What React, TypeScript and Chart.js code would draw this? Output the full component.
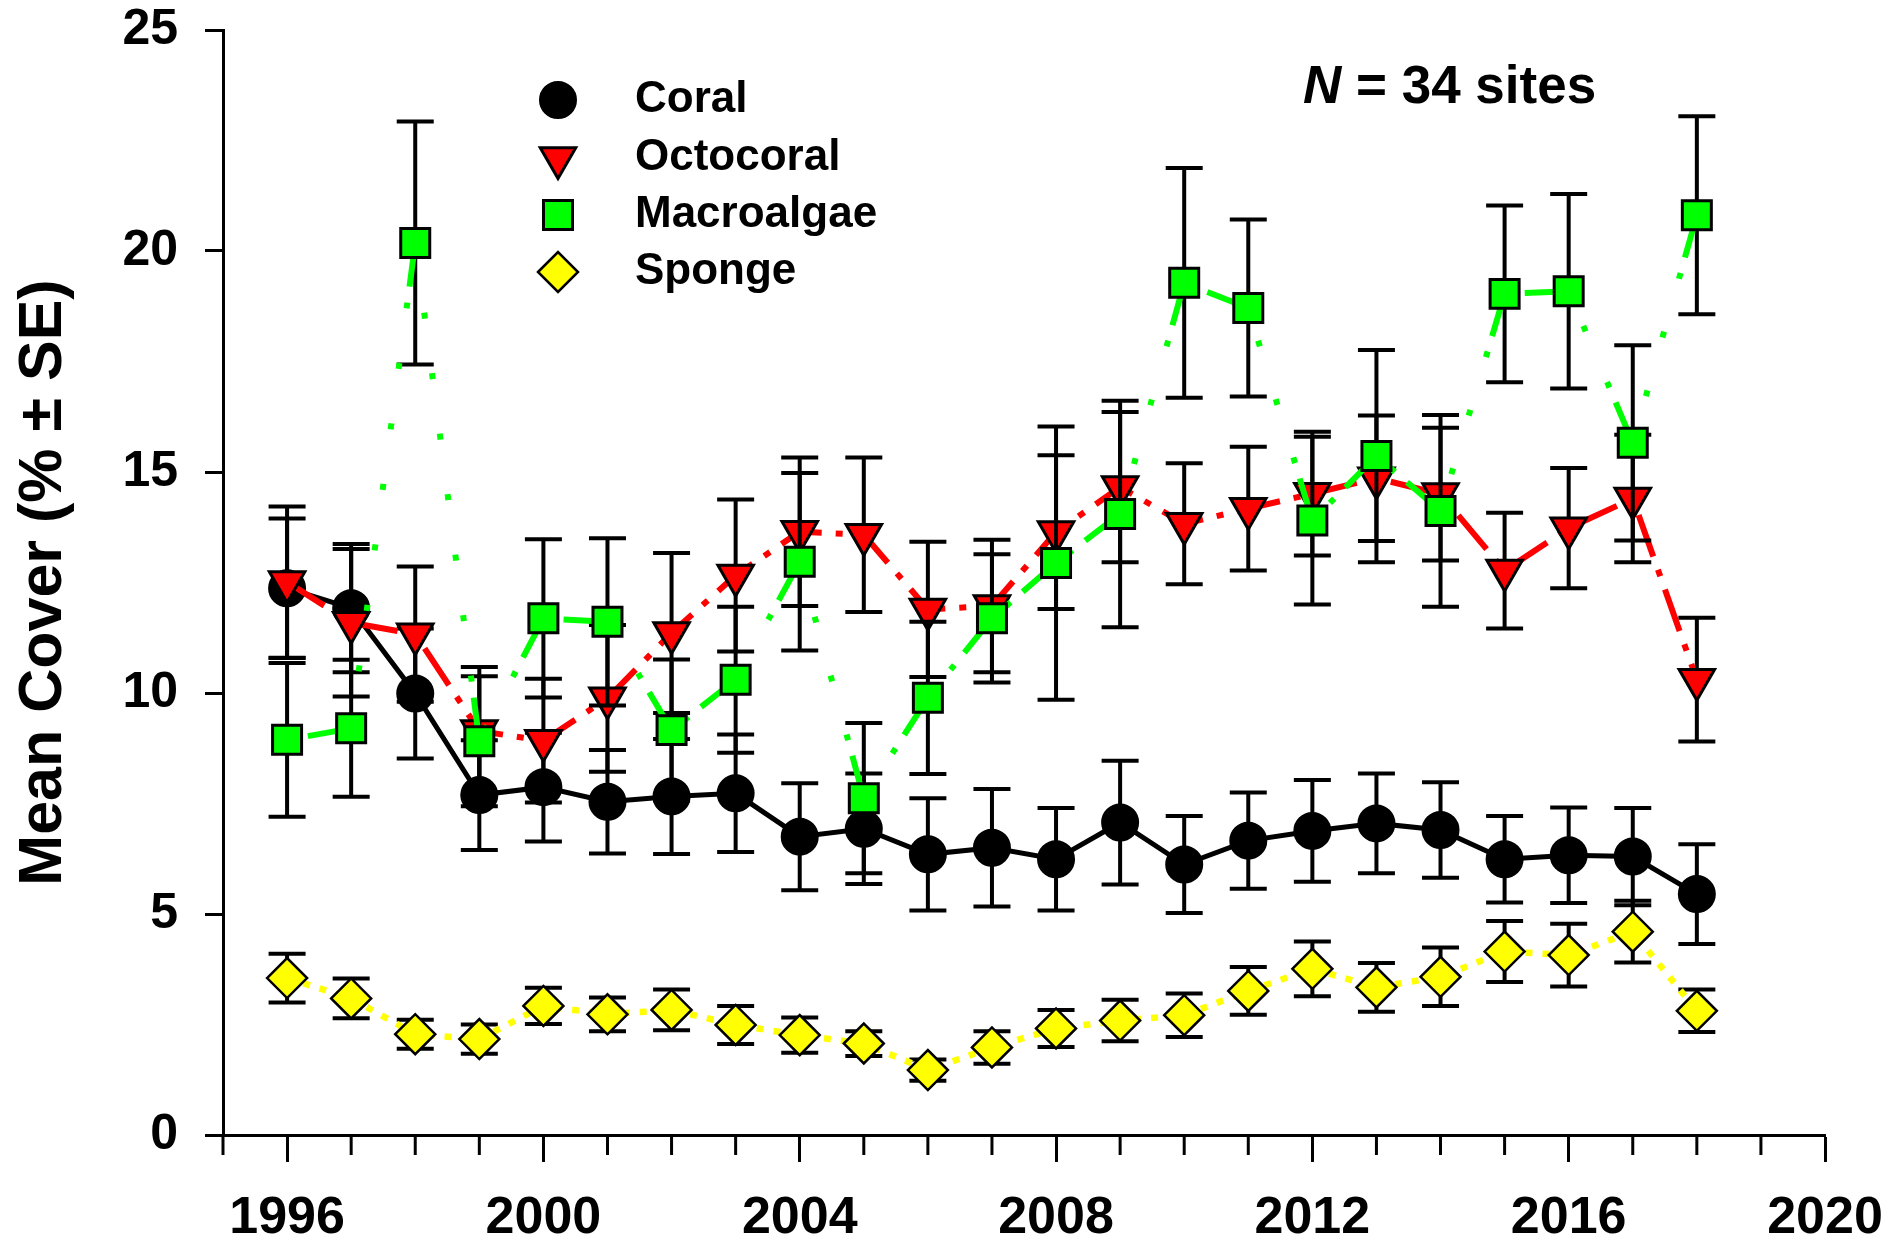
import React, { useEffect, useRef } from "react";
import { Chart, registerables } from "chart.js";
import { drawPoint } from "chart.js/helpers";

Chart.register(...registerables);

// ---------------- data ----------------
const years = [1996, 1997, 1998, 1999, 2000, 2001, 2002, 2003, 2004, 2005, 2006, 2007, 2008, 2009, 2010, 2011, 2012, 2013, 2014, 2015, 2016, 2017, 2018];

const coralMean = [12.37, 11.92, 9.99, 7.69, 7.87, 7.54, 7.66, 7.73, 6.75, 6.93, 6.35, 6.5, 6.24, 7.07, 6.12, 6.66, 6.88, 7.05, 6.9, 6.24, 6.33, 6.3, 5.45];
const coralSE = [1.58, 1.45, 1.47, 1.24, 1.23, 1.17, 1.3, 1.33, 1.21, 1.25, 1.27, 1.33, 1.16, 1.4, 1.1, 1.09, 1.15, 1.13, 1.08, 0.98, 1.08, 1.1, 1.13];

const octocoralMean = [12.51, 11.59, 11.33, 9.14, 8.92, 9.88, 11.36, 12.66, 13.65, 13.58, 11.89, 11.97, 13.64, 14.66, 13.83, 14.17, 14.51, 14.86, 14.5, 12.77, 13.73, 14.4, 10.3];
const octocoralSE = [1.71, 1.67, 1.53, 1.45, 1.4, 1.66, 1.81, 1.72, 1.68, 1.75, 1.53, 1.5, 1.74, 1.7, 1.37, 1.4, 1.4, 1.42, 1.5, 1.31, 1.36, 1.44, 1.4];

const macroalgaeMean = [8.94, 9.2, 20.18, 8.91, 11.69, 11.61, 9.16, 10.3, 12.97, 7.62, 9.89, 11.69, 12.94, 14.05, 19.28, 18.71, 13.9, 15.36, 14.12, 19.03, 19.09, 15.66, 20.81];
const macroalgaeSE = [1.74, 1.55, 2.75, 1.47, 1.79, 1.89, 1.6, 1.65, 2.01, 1.7, 1.72, 1.45, 3.09, 2.56, 2.6, 2.0, 1.9, 2.4, 2.17, 2.0, 2.2, 2.21, 2.24];

const spongeMean = [3.55, 3.09, 2.28, 2.17, 2.92, 2.73, 2.83, 2.49, 2.26, 2.07, 1.47, 1.98, 2.41, 2.59, 2.71, 3.26, 3.76, 3.34, 3.58, 4.15, 4.07, 4.6, 2.81];
const spongeSE = [0.55, 0.45, 0.33, 0.33, 0.41, 0.38, 0.46, 0.43, 0.4, 0.28, 0.24, 0.37, 0.42, 0.47, 0.49, 0.54, 0.62, 0.55, 0.66, 0.69, 0.71, 0.7, 0.48];

const seriesLabels = ["Coral", "Octocoral", "Macroalgae", "Sponge"];
const yTickValues = [0, 5, 10, 15, 20, 25];
const xMin = 1995;
const xMax = 2020;
const majorStart = 1996;
const majorEvery = 4;
const annotationN = "N";
const annotationRest = " = 34 sites";
const yTitle = "Mean Cover (% ± SE)";

// ---------------- styling ----------------
const FONT = "'Liberation Sans', Arial, Helvetica, sans-serif";
const GREEN_DASH = [6, 55, 6, 55, 6, 55, 6, 55, 6, 55, 6, 55, 6, 55, 6, 16, 44, 55];
const GREEN_PERIOD = GREEN_DASH.reduce((a, b) => a + b, 0);
const GREEN_END = GREEN_PERIOD - 55;

const pts = (vals: number[]) => years.map((x, i) => ({ x, y: vals[i] }));

const zeroPadding = (s: any) => {
  s.paddingTop = 0;
  s.paddingBottom = 0;
  s.paddingLeft = 0;
  s.paddingRight = 0;
};

const errorBarPlugin = {
  id: "errorBars",
  beforeDatasetDraw(chart: any, args: any) {
    const ds = chart.data.datasets[args.index];
    const se: number[] = ds.se;
    if (!se) return;
    const yScale = chart.scales.y;
    const ctx = chart.ctx;
    ctx.save();
    ctx.strokeStyle = "#000";
    ctx.lineWidth = 4;
    ctx.lineCap = "butt";
    ctx.setLineDash([]);
    args.meta.data.forEach((pt: any, i: number) => {
      const v = ds.data[i].y;
      const top = yScale.getPixelForValue(v + se[i]);
      const bot = yScale.getPixelForValue(v - se[i]);
      const x = pt.x;
      ctx.beginPath();
      ctx.moveTo(x, top);
      ctx.lineTo(x, bot);
      ctx.moveTo(x - 18.5, top);
      ctx.lineTo(x + 18.5, top);
      ctx.moveTo(x - 18.5, bot);
      ctx.lineTo(x + 18.5, bot);
      ctx.stroke();
    });
    ctx.restore();
  },
};

const minorTickPlugin = {
  id: "minorTicks",
  afterDraw(chart: any) {
    const xs = chart.scales.x;
    const ctx = chart.ctx;
    const y0 = chart.chartArea.bottom;
    ctx.save();
    ctx.strokeStyle = "#000";
    ctx.lineWidth = 3;
    for (let yr = xMin; yr < xMax; yr++) {
      if ((yr - majorStart) % majorEvery === 0) continue;
      const x = xs.getPixelForValue(yr);
      ctx.beginPath();
      ctx.moveTo(x, y0);
      ctx.lineTo(x, y0 + 20);
      ctx.stroke();
    }
    ctx.restore();
  },
};

const legendPlugin = {
  id: "customLegend",
  afterDraw(chart: any) {
    const ctx = chart.ctx;
    const rows = [100, 158, 215, 272];
    chart.data.datasets.forEach((ds: any, i: number) => {
      ctx.save();
      ctx.setLineDash([]);
      ctx.fillStyle = ds.pointBackgroundColor;
      ctx.strokeStyle = ds.pointBorderColor;
      ctx.lineWidth = ds.pointBorderWidth;
      drawPoint(
        ctx,
        {
          pointStyle: ds.pointStyle,
          rotation: ds.pointRotation || 0,
          radius: ds.pointRadius,
          borderWidth: ds.pointBorderWidth,
        },
        558,
        rows[i]
      );
      ctx.fillStyle = "#000";
      ctx.font = `bold 44px ${FONT}`;
      ctx.textBaseline = "middle";
      ctx.textAlign = "left";
      ctx.fillText(seriesLabels[i], 635, rows[i]);
      ctx.restore();
    });
    // N = 34 sites
    ctx.save();
    ctx.fillStyle = "#000";
    ctx.textBaseline = "middle";
    ctx.textAlign = "left";
    ctx.font = `italic bold 53px ${FONT}`;
    const nx = 1303;
    const ny = 88;
    ctx.fillText(annotationN, nx, ny);
    const w = ctx.measureText(annotationN).width;
    ctx.font = `bold 53px ${FONT}`;
    ctx.fillText(annotationRest, nx + w, ny);
    ctx.restore();
  },
};

export default function App() {
  const ref = useRef<HTMLCanvasElement>(null);
  useEffect(() => {
    if (!ref.current) return;
    Chart.defaults.font.family = FONT;
    Chart.defaults.color = "#000";
    const common = { tension: 0, fill: false, clip: false as any, showLine: true };
    const chart = new Chart(ref.current, {
      type: "line",
      data: {
        datasets: [
          {
            ...common,
            label: seriesLabels[0],
            data: pts(coralMean),
            se: coralSE,
            order: 4,
            borderColor: "#000",
            borderWidth: 5,
            pointStyle: "circle",
            pointRadius: 18,
            pointHoverRadius: 18,
            pointBorderWidth: 2,
            pointBackgroundColor: "#000",
            pointBorderColor: "#000",
            pointRotation: 0,
          } as any,
          {
            ...common,
            label: seriesLabels[1],
            data: pts(octocoralMean),
            se: octocoralSE,
            order: 3,
            borderColor: "#ff0000",
            borderWidth: 6,
            borderDash: [44, 14, 7, 14],
            pointStyle: "triangle",
            pointRotation: 180,
            pointRadius: 20.5,
            pointHoverRadius: 20.5,
            pointBorderWidth: 3,
            pointBackgroundColor: "#ff0000",
            pointBorderColor: "#000",
          } as any,
          {
            ...common,
            label: seriesLabels[2],
            data: pts(macroalgaeMean),
            se: macroalgaeSE,
            order: 2,
            borderColor: "#00ff00",
            borderWidth: 6,
            borderDash: GREEN_DASH,
            segment: {
              borderDashOffset: (c: any) => {
                const L = Math.hypot(c.p1.x - c.p0.x, c.p1.y - c.p0.y);
                return (((GREEN_END - L) % GREEN_PERIOD) + GREEN_PERIOD) % GREEN_PERIOD;
              },
            },
            pointStyle: "rect",
            pointRadius: 20.5,
            pointHoverRadius: 20.5,
            pointBorderWidth: 3,
            pointBackgroundColor: "#00ff00",
            pointBorderColor: "#000",
            pointRotation: 0,
          } as any,
          {
            ...common,
            label: seriesLabels[3],
            data: pts(spongeMean),
            se: spongeSE,
            order: 1,
            borderColor: "#ffff00",
            borderWidth: 6.5,
            borderDash: [7, 10],
            pointStyle: "rectRot",
            pointRadius: 20,
            pointHoverRadius: 20,
            pointBorderWidth: 2.5,
            pointBackgroundColor: "#ffff00",
            pointBorderColor: "#000",
            pointRotation: 0,
          } as any,
        ],
      },
      options: {
        responsive: false,
        maintainAspectRatio: false,
        animation: false,
        devicePixelRatio: 1,
        events: [],
        layout: { padding: { left: 0, top: 30, right: 70, bottom: 0 } },
        plugins: {
          legend: { display: false },
          tooltip: { enabled: false },
          title: { display: false },
        },
        scales: {
          x: {
            type: "linear",
            min: xMin,
            max: xMax,
            afterFit: (s: any) => {
              s.height = 107;
              zeroPadding(s);
            },
            border: { display: true, color: "#000", width: 3 },
            grid: {
              display: true,
              drawOnChartArea: false,
              drawTicks: true,
              tickLength: 27,
              tickWidth: 3,
              tickColor: (c: any) =>
                c.tick && (c.tick.value - majorStart) % majorEvery === 0 ? "#000" : "rgba(0,0,0,0)",
            },
            ticks: {
              stepSize: 1,
              autoSkip: false,
              maxRotation: 0,
              minRotation: 0,
              padding: 25,
              color: "#000",
              font: { size: 52, weight: "bold", family: FONT },
              callback: (v: any) => ((Number(v) - majorStart) % majorEvery === 0 ? String(v) : ""),
            },
          },
          y: {
            type: "linear",
            min: 0,
            max: 25,
            afterFit: (s: any) => {
              s.width = 223;
              zeroPadding(s);
            },
            afterBuildTicks: (s: any) => {
              s.ticks = yTickValues.map((v) => ({ value: v }));
            },
            border: { display: true, color: "#000", width: 3 },
            grid: {
              display: true,
              drawOnChartArea: false,
              drawTicks: true,
              tickLength: 18,
              tickWidth: 3,
              tickColor: "#000",
            },
            ticks: {
              padding: 27,
              color: "#000",
              font: { size: 50, weight: "bold", family: FONT },
            },
            title: {
              display: true,
              text: yTitle,
              color: "#000",
              font: { size: 61, weight: "bold", family: FONT },
              padding: { top: 8, bottom: 0 },
            },
          },
        },
      } as any,
      plugins: [errorBarPlugin, minorTickPlugin, legendPlugin],
    });
    return () => chart.destroy();
  }, []);
  return (
    <div style={{ position: "fixed", left: 0, top: 0, width: 1895, height: 1242, background: "#fff" }}>
      <canvas ref={ref} width={1895} height={1242} style={{ display: "block", width: 1895, height: 1242 }} />
    </div>
  );
}
